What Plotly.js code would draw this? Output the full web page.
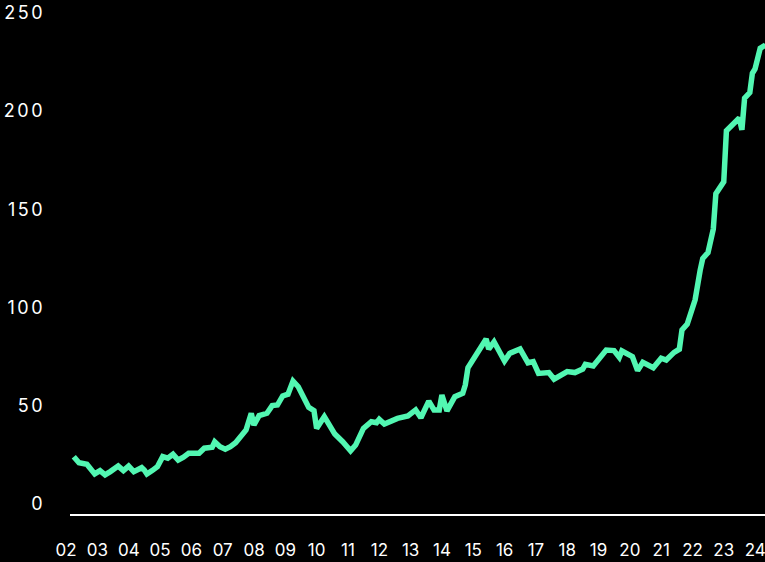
<!DOCTYPE html>
<html>
<head>
<meta charset="utf-8">
<script src="https://cdn.plot.ly/plotly-3.0.1.min.js"></script>
<style>
html,body{margin:0;padding:0;background:#000;}
#chart{width:765px;height:562px;}
#chart .ytick text{letter-spacing:2.5px;}
</style>
</head>
<body>
<div id="chart"></div>
<script>
// Dates (first of month) and index values
const dates = [
  "2002-04-01","2002-06-01","2002-09-01","2002-12-01","2003-02-01","2003-04-01","2003-06-01","2003-09-01","2003-11-01",
  "2004-01-01","2004-03-01","2004-06-01","2004-07-01","2004-08-01","2004-10-01","2004-12-01",
  "2005-02-01","2005-04-01","2005-06-01","2005-08-01","2005-10-01","2005-12-01",
  "2006-04-01","2006-06-01","2006-09-01","2006-10-01","2006-12-01",
  "2007-02-01","2007-04-01","2007-06-01","2007-10-01","2007-12-01",
  "2008-01-01","2008-03-01","2008-06-01","2008-08-01","2008-10-01","2008-12-01",
  "2009-02-01","2009-04-01","2009-06-01","2009-10-01","2009-12-01",
  "2010-01-01","2010-04-01","2010-08-01","2010-11-01",
  "2011-02-01","2011-04-01","2011-07-01","2011-10-01","2011-12-01",
  "2012-01-01","2012-03-01","2012-08-01","2012-12-01",
  "2013-03-01","2013-05-01","2013-08-01","2013-10-01","2013-12-01",
  "2014-01-01","2014-03-01","2014-06-01","2014-09-01","2014-10-01","2014-11-01",
  "2015-06-01","2015-07-01","2015-09-01",
  "2016-01-01","2016-03-01","2016-07-01","2016-10-01","2016-12-01",
  "2017-02-01","2017-06-01","2017-08-01",
  "2018-01-01","2018-04-01","2018-07-01","2018-08-01","2018-11-01",
  "2019-04-01","2019-07-01","2019-09-01","2019-10-01",
  "2020-02-01","2020-04-01","2020-06-01","2020-10-01",
  "2021-01-01","2021-03-01","2021-06-01","2021-08-01","2021-09-01","2021-11-01",
  "2022-02-01","2022-04-01","2022-05-01","2022-07-01","2022-09-01","2022-10-01",
  "2023-01-01","2023-02-01","2023-06-01","2023-07-01","2023-08-01","2023-09-01","2023-11-01","2023-12-01",
  "2024-01-01","2024-03-01","2024-05-01"
];
const values = [
  24.1,21.0,20.2,15.3,17.0,14.8,16.5,19.3,17.0,
  19.3,16.5,18.5,17.3,15.3,17.0,19.0,
  24.1,23.3,25.3,22.4,23.8,25.8,
  25.8,28.4,28.9,31.7,29.2,
  27.9,29.2,31.2,37.7,46.2,
  40.2,45.0,46.2,50.1,50.4,55.0,
  55.9,62.6,59.7,49.2,47.5,
  38.5,44.5,35.6,31.7,
  27.1,30.0,38.5,41.9,41.4,
  43.1,40.7,43.6,44.8,
  47.9,43.9,52.4,47.9,47.9,
  55.5,47.4,54.6,56.4,60.6,69.4,
  84.0,78.9,82.6,
  72.8,76.7,78.9,71.9,72.5,
  66.5,66.9,63.6,
  67.4,66.9,68.7,71.1,70.3,
  78.4,78.1,74.7,77.9,
  75.0,67.9,72.1,69.4,
  74.2,73.3,77.2,78.8,88.6,91.6,
  104,119,125,128,140,158,
  164,190,195.5,196.5,190.5,206.6,209.5,219.3,
  221.5,232,233.7
];
const yTicks = [0, 50, 100, 150, 200, 250];

const trace = {
  x: dates,
  y: values,
  type: "scatter",
  mode: "lines",
  line: {color: "#52f7b2", width: 5.5, shape: "linear"},
  hoverinfo: "skip"
};

const tickFont = {family: "Inter, 'Noto Sans', sans-serif", color: "#fff", size: 17};
const yTickFont = {family: "Inter, 'Noto Sans', sans-serif", color: "#fff", size: 18};

const layout = {
  width: 765,
  height: 562,
  paper_bgcolor: "#000",
  plot_bgcolor: "#000",
  margin: {l: 70, r: 0, t: 0, b: 48},
  showlegend: false,
  font: tickFont,
  xaxis: {
    type: "date",
    range: ["2002-02-16", "2024-04-26"],
    tick0: "2002-03-01",
    dtick: "M12",
    tickformat: "%y",
    ticks: "",
    showgrid: false,
    zeroline: false,
    showline: true,
    linecolor: "#fff",
    linewidth: 2,
    ticklabelstandoff: 20,
    ticklabelshift: -5,
    ticklabeloverflow: "allow",
    tickfont: tickFont
  },
  yaxis: {
    range: [-5.09, 256.6],
    tickvals: yTicks,
    ticks: "",
    showgrid: false,
    zeroline: false,
    showline: false,
    ticklabelstandoff: 24,
    tickfont: yTickFont
  }
};

Plotly.newPlot("chart", [trace], layout, {displayModeBar: false, staticPlot: true});
</script>
</body>
</html>
